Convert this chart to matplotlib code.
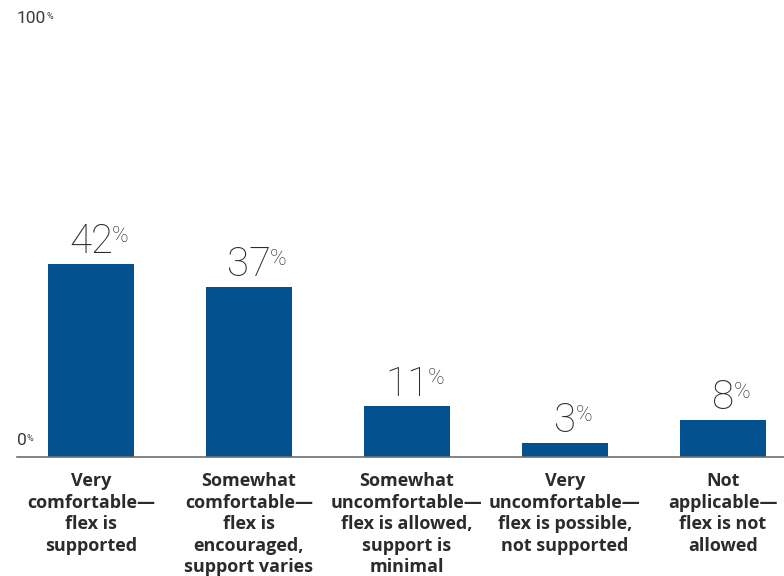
import matplotlib
matplotlib.use("Agg")
import matplotlib.pyplot as plt

categories = [
    "Very\ncomfortable—\nflex is\nsupported",
    "Somewhat\ncomfortable—\nflex is\nencouraged,\nsupport varies",
    "Somewhat\nuncomfortable—\nflex is allowed,\nsupport is\nminimal",
    "Very\nuncomfortable—\nflex is possible,\nnot supported",
    "Not\napplicable—\nflex is not\nallowed",
]
values = [42, 37, 11, 3, 8]
tick_values = [0, 100]

BAR_COLOR = "#03528f"
TEXT_COLOR = "#2b2b2b"
TICK_COLOR = "#3a3a3a"
AXIS_COLOR = "#6e6e6e"

fig = plt.figure(figsize=(7.84, 5.76), dpi=100)
ax = fig.add_axes([0, 0, 1, 1])
ax.set_axis_off()

px_per_unit = 4.595
ax.set_ylim(-119 / px_per_unit, 457 / px_per_unit)
ax.set_xlim(-91 / 158, (784 - 91) / 158)

xs = list(range(len(values)))
ax.bar(xs, values, width=86 / 158, color=BAR_COLOR, zorder=2)

# baseline
ax.axhline(0, xmin=17 / 784, xmax=1, color=AXIS_COLOR, lw=1.2, zorder=3)

fig.canvas.draw()

NUM_FONT = dict(family="Roboto", fontweight="light", color=TEXT_COLOR)
TICK_FONT = dict(family="Roboto", fontweight="normal", color=TICK_COLOR)

# value labels with superscript percent
for x, v in zip(xs, values):
    t = ax.annotate(str(v), xy=(x, v), xytext=(0, 2), textcoords="offset points",
                    ha="center", va="bottom", fontsize=29, **NUM_FONT)
    ax.annotate("%", xy=(0.98, 0.92), xycoords=t, ha="left", va="top",
                fontsize=16, **NUM_FONT)

# y reference labels
for tv in tick_values:
    y = tv if tv < 100 else 457 / px_per_unit
    xy_off = (0, 12) if tv == 0 else (0, -13)
    t = ax.annotate(str(tv), xy=(-0.468, y), xytext=xy_off, textcoords="offset points",
                    ha="left", va="center", fontsize=12.5, **TICK_FONT)
    ax.annotate("%", xy=(1, 0.9), xycoords=t, ha="left", va="top",
                fontsize=6.5, **TICK_FONT)

# category labels
for x, c in zip(xs, categories):
    ax.annotate(c, xy=(x, 0), xytext=(0, -11), textcoords="offset points",
                ha="center", va="top", fontsize=13, fontweight="bold",
                color=TEXT_COLOR, family="Open Sans", linespacing=1.25)

fig.savefig("out.png", dpi=100)
